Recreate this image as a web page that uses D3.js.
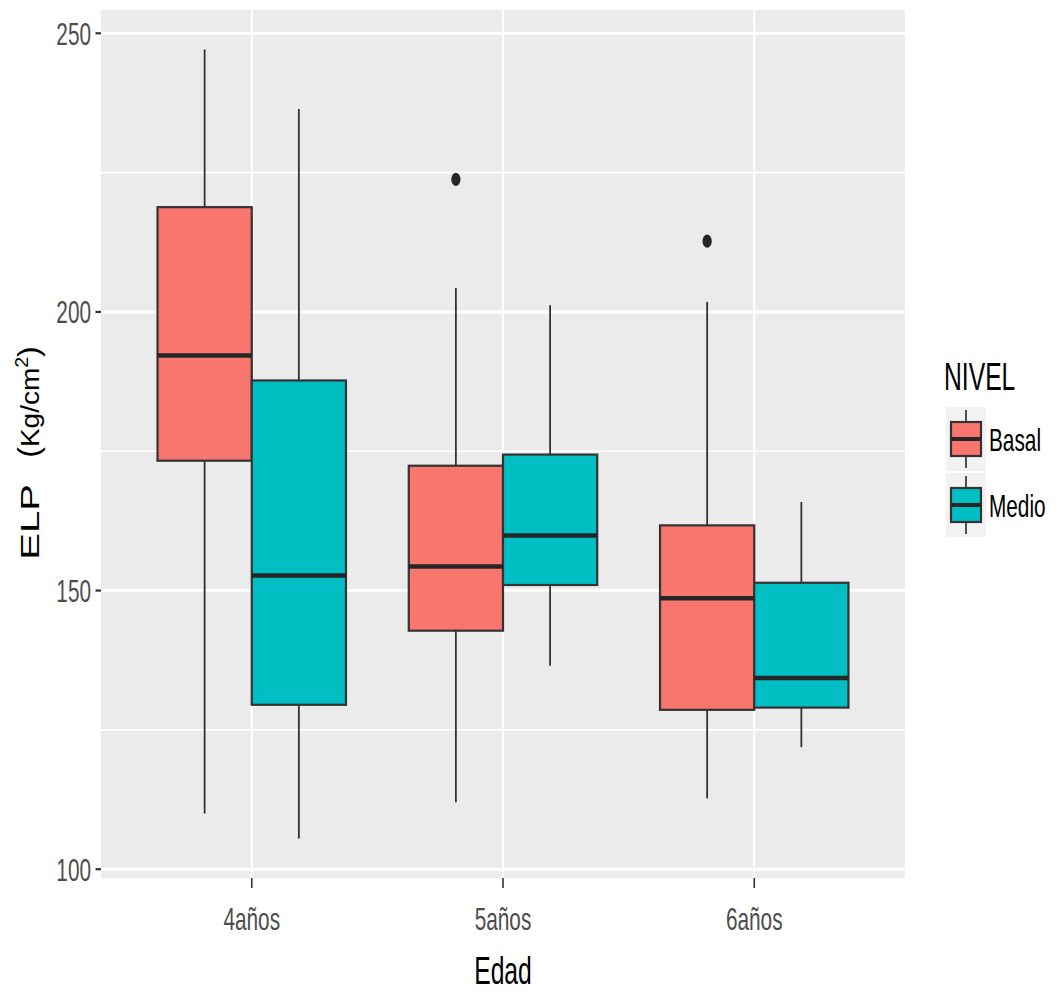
<!DOCTYPE html>
<html>
<head>
<meta charset="utf-8">
<script src="https://cdn.jsdelivr.net/npm/d3@7"></script>
<style>
  html, body { margin: 0; padding: 0; background: #ffffff; }
  svg { display: block; }
  text { font-family: "Liberation Sans", Arial, sans-serif; }
</style>
</head>
<body>
<script>
// Age groups on the x axis and the two levels that are dodged within each
const categories = ["4años", "5años", "6años"];
const levels = ["Basal", "Medio"];
const levelColors = ["#F8766D", "#00BFC4"];

// Box statistics per level, one entry per age group
const whiskerLow  = { Basal: [110.0, 112.0, 112.7], Medio: [105.5, 136.5, 121.9] };
const q1          = { Basal: [173.3, 142.8, 128.6], Medio: [129.5, 151.0, 129.0] };
const median      = { Basal: [192.2, 154.3, 148.6], Medio: [152.7, 159.9, 134.3] };
const q3          = { Basal: [218.8, 172.4, 161.7], Medio: [187.7, 174.4, 151.4] };
const whiskerHigh = { Basal: [247.1, 204.3, 201.8], Medio: [236.4, 201.2, 165.9] };
const outliers    = { Basal: [[], [223.8], [212.7]], Medio: [[], [], []] };

const yTicks = [100, 150, 200, 250];
const yMinor = [125, 175, 225];

const W = 1058, H = 992;
const panel = { left: 101, right: 905, top: 10, bottom: 878 };
const SX = 0.65; // horizontal glyph compression of the typeface

const svg = d3.select("body").append("svg").attr("width", W).attr("height", H);

// y domain with the usual 5% expansion around the data range
const allVals = [];
levels.forEach(l => {
  allVals.push(...whiskerLow[l], ...whiskerHigh[l]);
  outliers[l].forEach(o => allVals.push(...o));
});
const lo = d3.min(allVals), hi = d3.max(allVals), pad = (hi - lo) * 0.05;
const y = d3.scaleLinear().domain([lo - pad, hi + pad]).range([panel.bottom, panel.top]);

const x = d3.scaleBand().domain(categories).range([panel.left, panel.right])
  .paddingInner(0).paddingOuter(0.1);
const step = x.bandwidth();
const center = c => x(c) + step / 2;
const dodge = d3.scaleBand().domain(levels).range([-0.375 * step, 0.375 * step]);

// Panel background and grid
svg.append("rect").attr("x", panel.left).attr("y", panel.top)
  .attr("width", panel.right - panel.left).attr("height", panel.bottom - panel.top)
  .attr("fill", "#EBEBEB");

svg.append("g").selectAll("line").data(yMinor).join("line")
  .attr("x1", panel.left).attr("x2", panel.right)
  .attr("y1", d => y(d)).attr("y2", d => y(d))
  .attr("stroke", "#ffffff").attr("stroke-width", 1.6);
svg.append("g").selectAll("line").data(yTicks).join("line")
  .attr("x1", panel.left).attr("x2", panel.right)
  .attr("y1", d => y(d)).attr("y2", d => y(d))
  .attr("stroke", "#ffffff").attr("stroke-width", 3);
svg.append("g").selectAll("line").data(categories).join("line")
  .attr("x1", d => center(d)).attr("x2", d => center(d))
  .attr("y1", panel.top).attr("y2", panel.bottom)
  .attr("stroke", "#ffffff").attr("stroke-width", 2);

// Boxplots
const boxes = [];
levels.forEach((l, li) => categories.forEach((c, ci) => boxes.push({
  level: l, color: levelColors[li], cat: c,
  lo: whiskerLow[l][ci], q1: q1[l][ci], med: median[l][ci], q3: q3[l][ci],
  hi: whiskerHigh[l][ci], out: outliers[l][ci]
})));

const bx = d => center(d.cat) + dodge(d.level);
const bw = dodge.bandwidth();

const gBox = svg.append("g");
gBox.selectAll("line.wu").data(boxes).join("line").attr("class", "wu")
  .attr("x1", d => bx(d) + bw / 2).attr("x2", d => bx(d) + bw / 2)
  .attr("y1", d => y(d.hi)).attr("y2", d => y(d.q3))
  .attr("stroke", "#333333").attr("stroke-width", 1.8);
gBox.selectAll("line.wl").data(boxes).join("line").attr("class", "wl")
  .attr("x1", d => bx(d) + bw / 2).attr("x2", d => bx(d) + bw / 2)
  .attr("y1", d => y(d.q1)).attr("y2", d => y(d.lo))
  .attr("stroke", "#333333").attr("stroke-width", 1.8);
gBox.selectAll("rect").data(boxes).join("rect")
  .attr("x", d => bx(d)).attr("width", bw)
  .attr("y", d => y(d.q3)).attr("height", d => y(d.q1) - y(d.q3))
  .attr("fill", d => d.color).attr("stroke", "#333333").attr("stroke-width", 2.2);
gBox.selectAll("line.med").data(boxes).join("line").attr("class", "med")
  .attr("x1", d => bx(d)).attr("x2", d => bx(d) + bw)
  .attr("y1", d => y(d.med)).attr("y2", d => y(d.med))
  .attr("stroke", "#262626").attr("stroke-width", 4.5);

const outPts = boxes.flatMap(d => d.out.map(v => ({ x: bx(d) + bw / 2, v })));
gBox.selectAll("ellipse").data(outPts).join("ellipse")
  .attr("cx", d => d.x).attr("cy", d => y(d.v))
  .attr("rx", 4.6).attr("ry", 6.6).attr("fill", "#262626");

// Text helper: glyphs are drawn narrower than they are tall
function label(g, tx, ty, str, size, fill, anchor) {
  return g.append("text")
    .attr("transform", `translate(${tx},${ty}) scale(${SX},1)`)
    .attr("text-anchor", anchor).attr("font-size", size).attr("fill", fill)
    .text(str);
}

// Y axis
const gy = svg.append("g");
gy.selectAll("line").data(yTicks).join("line")
  .attr("x1", panel.left - 5.5).attr("x2", panel.left)
  .attr("y1", d => y(d)).attr("y2", d => y(d))
  .attr("stroke", "#333333").attr("stroke-width", 2.2);
yTicks.forEach(t => label(gy, panel.left - 10, y(t) + 11.5, String(t), 32, "#4D4D4D", "end"));

// X axis
const gx = svg.append("g");
gx.selectAll("line").data(categories).join("line")
  .attr("x1", d => center(d)).attr("x2", d => center(d))
  .attr("y1", panel.bottom).attr("y2", panel.bottom + 10)
  .attr("stroke", "#333333").attr("stroke-width", 1.6);
categories.forEach(c => label(gx, center(c), 930, c, 32, "#4D4D4D", "middle"));

// Axis titles
label(svg, (panel.left + panel.right) / 2, 984, "Edad", 38, "#000000", "middle");

svg.append("text")
  .attr("transform", `translate(39,522) scale(${SX},1) rotate(-90)`)
  .attr("text-anchor", "middle").attr("font-size", 40).attr("fill", "#000000")
  .text("ELP");
const unit = svg.append("text")
  .attr("transform", `translate(39,402) scale(${SX},0.7) rotate(-90)`)
  .attr("text-anchor", "middle").attr("font-size", 40).attr("fill", "#000000");
unit.append("tspan").attr("font-size", 46).text("(");
unit.append("tspan").text("Kg/cm");
unit.append("tspan").attr("font-size", 28).attr("dy", -17).text("2");
unit.append("tspan").attr("font-size", 46).attr("dy", 17).text(")");

// Legend
const lg = svg.append("g");
label(lg, 944, 390, "NIVEL", 38, "#000000", "start");
const keyX = 946, keyW = 40, keyH = 64, keyY0 = 407;
levels.forEach((l, i) => {
  const ky = keyY0 + i * (keyH + 2);
  const cx = keyX + keyW / 2;
  lg.append("rect").attr("x", keyX).attr("y", ky).attr("width", keyW).attr("height", keyH)
    .attr("fill", "#F2F2F2");
  lg.append("line").attr("x1", cx).attr("x2", cx).attr("y1", ky + 3).attr("y2", ky + keyH - 3)
    .attr("stroke", "#333333").attr("stroke-width", 1.7);
  lg.append("rect").attr("x", keyX + 5).attr("y", ky + 15).attr("width", keyW - 10).attr("height", keyH - 30)
    .attr("fill", levelColors[i]).attr("stroke", "#333333").attr("stroke-width", 2.2);
  lg.append("line").attr("x1", keyX + 5).attr("x2", keyX + keyW - 5)
    .attr("y1", ky + keyH / 2).attr("y2", ky + keyH / 2)
    .attr("stroke", "#262626").attr("stroke-width", 4);
  label(lg, keyX + keyW + 3, ky + keyH / 2 + 12, l, 32, "#000000", "start");
});
</script>
</body>
</html>
